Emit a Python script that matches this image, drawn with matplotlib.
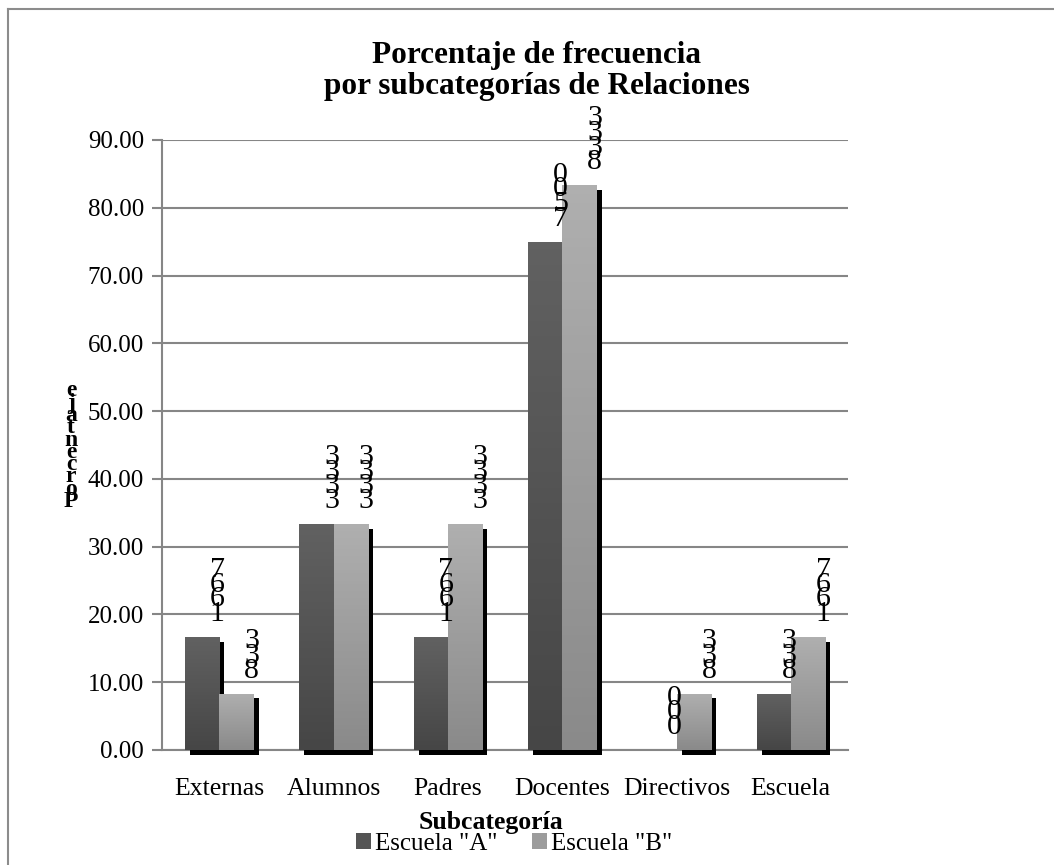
import numpy as np
import matplotlib
matplotlib.use("Agg")
import matplotlib.pyplot as plt
import matplotlib.patheffects as pe
from matplotlib.colors import LinearSegmentedColormap
from matplotlib.patches import Patch
from matplotlib.lines import Line2D

plt.rcParams['font.family'] = ['Liberation Serif', 'DejaVu Serif']

# Data
categories = ["Externas", "Alumnos", "Padres", "Docentes", "Directivos", "Escuela"]
escuela_a = [16.67, 33.33, 16.67, 75.00, 0.00, 8.33]
escuela_b = [8.33, 33.33, 33.33, 83.33, 8.33, 16.67]
series_names = ['Escuela "A"', 'Escuela "B"']
yticks = [0, 10, 20, 30, 40, 50, 60, 70, 80, 90]

W, H = 1054, 865
fig = plt.figure(figsize=(W / 100, H / 100), dpi=100)
ax = fig.add_axes([162 / W, 1 - 750 / H, 686 / W, 610 / H])

grey = "#868686"
grads = {
    0: ("#464646", "#616161"),   # bottom, top
    1: ("#8a8a8a", "#afafaf"),
}

x = np.arange(len(categories))
width = 0.3
shadow = [pe.SimplePatchShadow(offset=(3.8, -3.4), shadow_rgbFace="black", alpha=1.0),
          pe.Normal()]

for s, vals in enumerate([escuela_a, escuela_b]):
    offs = -width / 2 if s == 0 else width / 2
    bars = ax.bar(x + offs, vals, width, color=grads[s][0], zorder=3 + s,
                  clip_on=False, linewidth=0)
    cmap = LinearSegmentedColormap.from_list("g%d" % s, list(grads[s]))
    for b, v in zip(bars, vals):
        b.set_path_effects(shadow)
        if v <= 0:
            continue
        img = ax.imshow(np.linspace(0, 1, 64).reshape(-1, 1), cmap=cmap,
                        origin="lower", aspect="auto",
                        extent=[b.get_x(), b.get_x() + b.get_width(), 0, v],
                        zorder=3 + s + 0.5)
        img.set_clip_path(b)
    # stacked digit labels (looks like rotated text)
    for b, v in zip(bars, vals):
        digits = f"{v:.2f}".replace(".", "")
        for k, ch in enumerate(digits):
            ax.annotate(ch, (b.get_x() + b.get_width() / 2, v),
                        xytext=(11, 11.5 + 10.6 * k), textcoords="offset points",
                        ha="center", va="baseline", fontsize=21.5, zorder=10,
                        annotation_clip=False)

ax.set_xlim(-0.5, len(categories) - 0.5)
ax.set_ylim(0, 90)
ax.set_yticks(yticks)
ax.set_yticklabels([f"{t:.2f}" for t in yticks], fontsize=18)
ax.set_xticks(x)
ax.set_xticklabels(categories, fontsize=18.5)
ax.tick_params(axis="x", length=0, pad=20)
ax.tick_params(axis="y", length=7, width=1.5, color=grey, pad=6)
ax.yaxis.grid(True, color=grey, linewidth=1.5, zorder=0)
ax.set_axisbelow(True)
for side in ["top", "right"]:
    ax.spines[side].set_visible(False)
for side in ["left", "bottom"]:
    ax.spines[side].set_color(grey)
    ax.spines[side].set_linewidth(1.5)
    ax.spines[side].set_zorder(2)

# Title
fig.text(537 / W, 1 - 71 / H, "Porcentaje de frecuencia\npor subcategorías de Relaciones",
         ha="center", va="center", fontsize=22.5, fontweight="bold", linespacing=1.05)

# Y label: stacked letters, read bottom-up
ylab = "Porcentaje"
for k, ch in enumerate(ylab):
    fig.text(71 / W, 1 - (507 - 12.3 * k) / H, ch, ha="center", va="baseline",
             fontsize=17, fontweight="bold")

# X label
fig.text(491 / W, 1 - 822 / H, "Subcategoría", ha="center", va="center",
         fontsize=18.5, fontweight="bold")

# Legend
handles = [Patch(facecolor="#545454"), Patch(facecolor="#9c9c9c")]
fig.legend(handles, series_names, loc="center", bbox_to_anchor=(514 / W, 1 - 844 / H),
           ncol=2, frameon=False, fontsize=18, handlelength=0.6, handleheight=0.6,
           handletextpad=0.15, columnspacing=1.4, borderpad=0)

# Chart border (extends past the picture on right and bottom)
fig.add_artist(Line2D([8 / W, 8 / W], [1 - 9 / H, -0.1], color="#8c8c8c", linewidth=1.5))
fig.add_artist(Line2D([8 / W, 1.1], [1 - 9 / H, 1 - 9 / H], color="#8c8c8c", linewidth=1.5))

fig.savefig("out.png", dpi=100)
